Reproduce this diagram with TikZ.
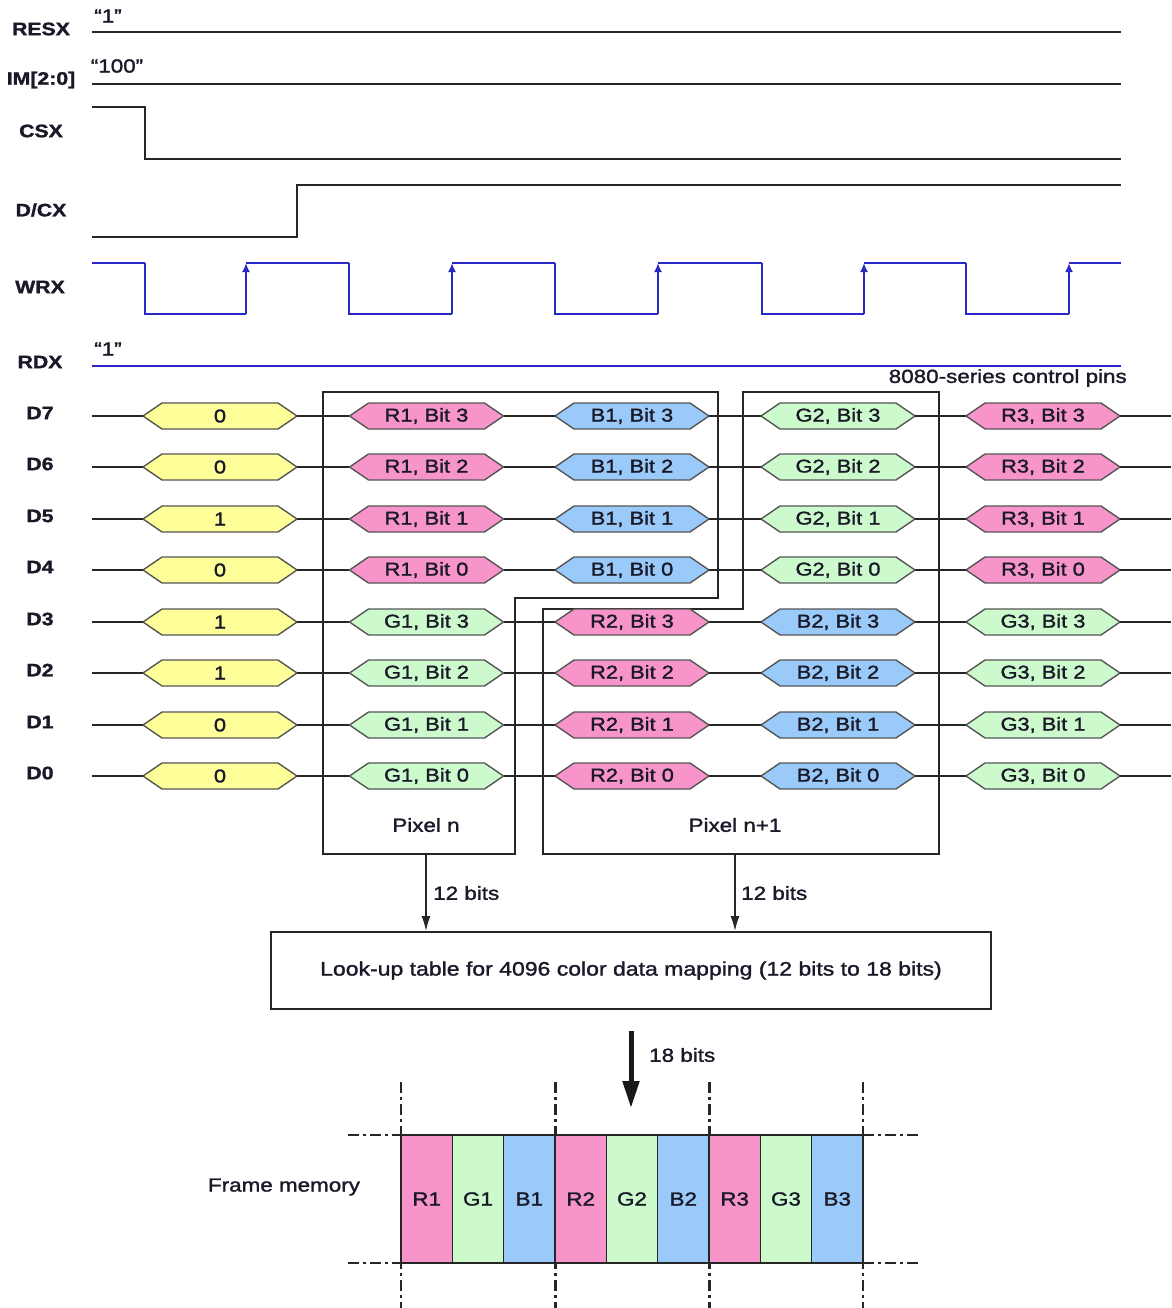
\documentclass[tikz,border=0pt]{standalone}
\usepackage{fontspec}
\setmainfont{Liberation Sans}[FakeStretch=1.18, FakeBold=1.5]
\usetikzlibrary{arrows.meta}
\definecolor{hy}{RGB}{255,255,153}
\definecolor{pk}{RGB}{247,148,202}
\definecolor{bl}{RGB}{153,202,250}
\definecolor{gr}{RGB}{204,250,204}
\definecolor{wblue}{RGB}{40,40,200}
\definecolor{txt}{RGB}{25,25,40}
\definecolor{hexgray}{RGB}{85,85,85}
\newcommand\fpinfont{\fontsize{18}{20}\selectfont\bfseries}
\newcommand\ftxtfont{\fontsize{19}{22}\selectfont}
\newcommand\flutfont{\fontsize{19.5}{22}\selectfont}
\newcommand\fhexfont{\fontsize{18.5}{22}\selectfont}
\newcommand\hexa[5]{%
  \filldraw[hexb, fill=#4] (#2-77,#3) -- (#2-58,#3-13) -- (#2+58,#3-13) -- (#2+77,#3) -- (#2+58,#3+13) -- (#2-58,#3+13) -- cycle;
  \node[hexn] (#1) at (#2,#3) {#5};
}
\begin{document}
\begin{tikzpicture}[x=1pt,y=-1pt,
  sig/.style={line width=1.8pt, draw=black!85},
  bsig/.style={line width=1.8pt, draw=wblue},
  pin/.style={font=\fpinfont, inner sep=0pt, text=txt},
  val/.style={font=\ftxtfont, inner sep=0pt, text=txt},
  hexn/.style={minimum width=154pt, minimum height=26pt, inner sep=0pt, font=\fhexfont, text=txt},
  hexb/.style={line width=1.4pt, draw=hexgray},
  box/.style={line width=1.8pt, draw=black!85},
  arr/.style={line width=1.6pt, draw=black!85, -{Latex[length=15pt,width=9pt]}},
  cell/.style={draw=black!85, line width=1.4pt, minimum width=51.33pt, minimum height=128pt, inner sep=0pt, font=\ftxtfont, text=txt},
  dd/.style={line width=2.6pt, draw=black!85, dash pattern=on 11pt off 4pt on 3pt off 4pt},
]
\useasboundingbox (0,0) rectangle (1171,1308);

% control pins
\node[pin] (lresx) at (41,29) {RESX};
\node[pin] (lim) at (41,80) {IM[2:0]};
\node[pin] (lcsx) at (41,131) {CSX};
\node[pin] (ldcx) at (41,210) {D/CX};
\node[pin] (lwrx) at (40,287) {WRX};
\node[pin] (lrdx) at (40,362) {RDX};
\node[val] (q1) at (108,16) {“1”};
\node[val] (q2) at (117,66) {“100”};
\node[val] (q3) at (108,349) {“1”};

\draw[sig] (92,32) -- (1121,32);
\draw[sig] (92,84) -- (1121,84);
\draw[sig] (92,107) -- (145,107) -- (145,159) -- (1121,159);
\draw[sig] (92,237) -- (297,237) -- (297,185) -- (1121,185);
\draw[bsig] (92,263) -- (145,263);
\foreach \f/\r/\n in {145/246/349, 349/452/555, 555/658/762, 762/864/966, 966/1069/1121}{
  \draw[bsig] (\f,263) -- (\f,314) -- (\r,314);
  \draw[bsig, -{Latex[length=9pt,width=8pt]}] (\r,314) -- (\r,263);
  \draw[bsig] (\r,263) -- (\n,263);
}
\draw[bsig] (92,366) -- (1121,366);
\node[val, anchor=east] (ctl) at (1127,378) {8080-series control pins};

% pixel groups
\draw[box] (323,392) -- (718,392) -- (718,598) -- (515,598) -- (515,854) -- (323,854) -- cycle;
\draw[box] (543,854) -- (543,609) -- (743,609) -- (743,392) -- (939,392) -- (939,854) -- cycle;
\node[val] (pxn) at (426,825) {Pixel n};
\node[val] (pxn1) at (735,825) {Pixel n+1};

% data bus
\foreach \i/\v in {0/0,1/0,2/1,3/0,4/1,5/1,6/0,7/0}{
  \pgfmathsetmacro\yy{round(416+51.43*\i)}
  \pgfmathtruncatemacro\dn{7-\i}
  \pgfmathtruncatemacro\bn{mod(7-\i,4)}
  \ifnum\i<4
    \def\ca{R1}\def\cca{pk}\def\cb{B1}\def\ccb{bl}\def\cc{G2}\def\ccc{gr}\def\cd{R3}\def\ccd{pk}
  \else
    \def\ca{G1}\def\cca{gr}\def\cb{R2}\def\ccb{pk}\def\cc{B2}\def\ccc{bl}\def\cd{G3}\def\ccd{gr}
  \fi
  \node[pin] (ld\i) at (40,\yy-3) {D\dn};
  \coordinate (ls\i) at (92,\yy);
  \coordinate (le\i) at (1171,\yy);
  \hexa{h0\i}{220}{\yy}{hy}{\v}
  \hexa{h1\i}{426.5}{\yy}{\cca}{\ca, Bit \bn}
  \hexa{h2\i}{632}{\yy}{\ccb}{\cb, Bit \bn}
  \hexa{h3\i}{838}{\yy}{\ccc}{\cc, Bit \bn}
  \hexa{h4\i}{1043}{\yy}{\ccd}{\cd, Bit \bn}
  \draw[sig] (ls\i) -- (h0\i) -- (h1\i) -- (h2\i) -- (h3\i) -- (h4\i) -- (le\i);
}

% look-up table
\node[box, draw, minimum width=720pt, minimum height=77pt, inner sep=0pt, font=\flutfont, text=txt] (lut) at (631,970.5) {Look-up table for 4096 color data mapping (12 bits to 18 bits)};
\coordinate (o1) at (426,854);
\coordinate (o2) at (735,854);
\draw[arr] (o1) -- (o1 |- lut.north);
\draw[arr] (o2) -- (o2 |- lut.north);
\node[val, anchor=west] (b12a) at (433,893) {12 bits};
\node[val, anchor=west] (b12b) at (741,893) {12 bits};

\coordinate (s18) at (631,1031);
\coordinate (e18) at (631,1108);
\draw[line width=5pt, draw=black!90, -{Triangle[length=27pt,width=16pt]}] (s18) -- (e18);
\node[val, anchor=west] (b18) at (649,1055) {18 bits};

% frame memory
\foreach \x in {401,555.67,709.67,863}{
  \draw[dd] (\x,1082) -- (\x,1308);
}
\draw[dd] (348,1135) -- (401,1135);
\draw[dd] (863,1135) -- (918,1135);
\draw[dd] (348,1263) -- (401,1263);
\draw[dd] (863,1263) -- (918,1263);
\foreach \k/\t/\c in {0/R1/pk,1/G1/gr,2/B1/bl,3/R2/pk,4/G2/gr,5/B2/bl,6/R3/pk,7/G3/gr,8/B3/bl}{
  \node[cell, fill=\c] (m\k) at (426.67+51.33*\k,1199) {\t};
}
\node[val] (fm) at (284,1187) {Frame memory};
\end{tikzpicture}
\end{document}
